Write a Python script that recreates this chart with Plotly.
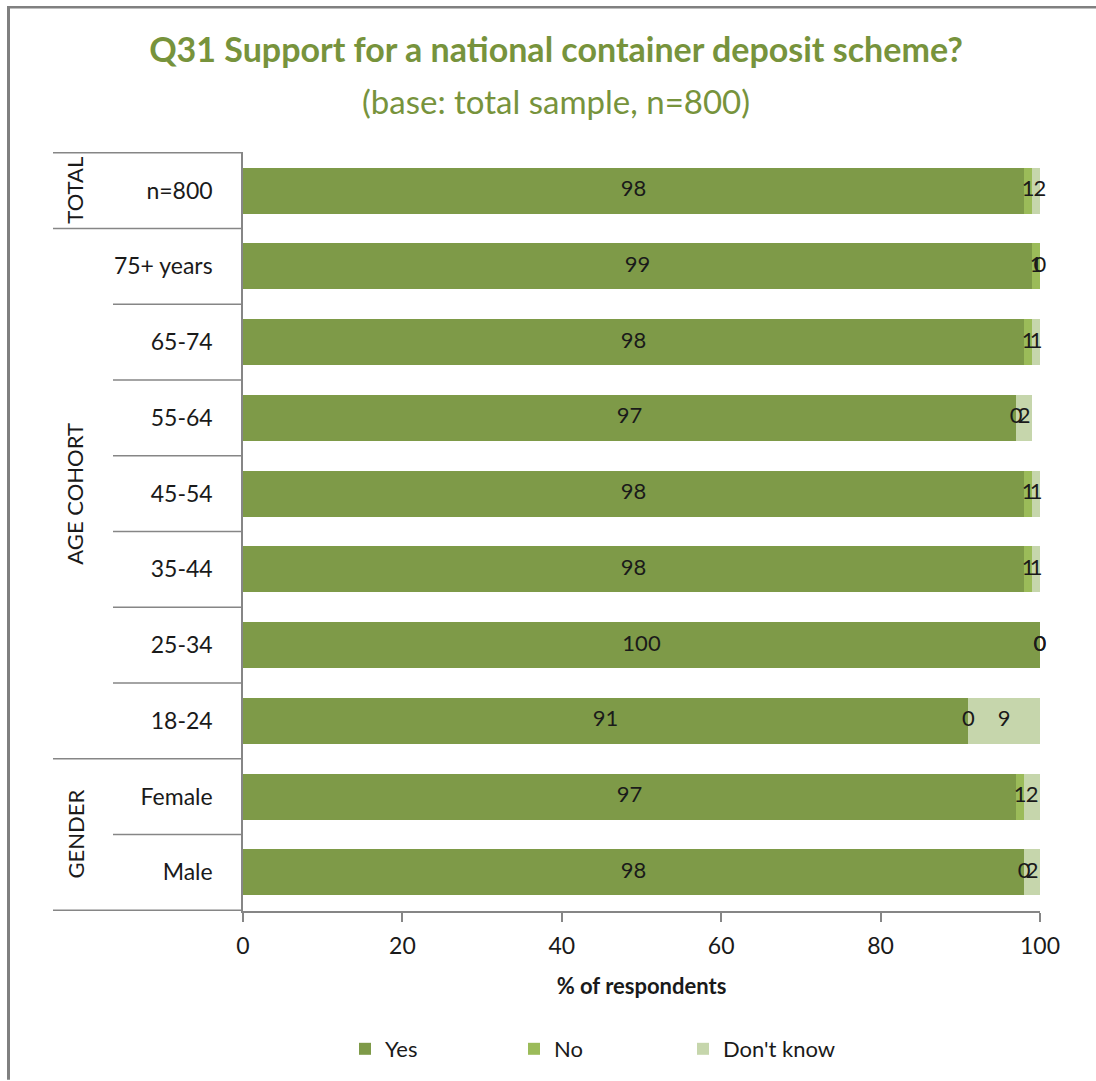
import plotly.graph_objects as go

categories = ["n=800", "75+ years", "65-74", "55-64", "45-54", "35-44", "25-34", "18-24", "Female", "Male"]
yes = [98, 99, 98, 97, 98, 98, 100, 91, 97, 98]
no = [1, 1, 1, 0, 1, 1, 0, 0, 1, 0]
dont_know = [2, 0, 1, 2, 1, 1, 0, 9, 2, 2]
series_names = ["Yes", "No", "Don't know"]
colors = ["#7E9A48", "#9BBB59", "#C6D6AC"]
x_ticks = [0, 20, 40, 60, 80, 100]
groups = [("TOTAL", 0, 0), ("AGE COHORT", 1, 7), ("GENDER", 8, 9)]

W, H = 1096, 1081
L, R, T, B = 243, 1040, 152, 912
PW, PH = R - L, B - T

def px_x(px):
    return (px - L) / PW

def px_y(py):
    return (B - py) / PH

FONT = "Lato"
TXT = "#1a1a1a"
GRAY = "#868686"

fig = go.Figure()
series = [yes, no, dont_know]
for name, vals, col in zip(series_names, series, colors):
    fig.add_trace(go.Bar(name=name, y=categories, x=vals, orientation="h",
                         marker=dict(color=col, line=dict(width=0)),
                         hoverinfo="skip"))

# data labels at segment centres
starts = [0] * len(categories)
for vals in series:
    centers = [s + v / 2 for s, v in zip(starts, vals)]
    fig.add_trace(go.Scatter(x=centers, y=categories, mode="text",
                             text=[str(v) for v in vals],
                             textfont=dict(family=FONT, size=22, color=TXT),
                             textposition="middle center", showlegend=False,
                             hoverinfo="skip", cliponaxis=False))
    starts = [s + v for s, v in zip(starts, vals)]

shapes = []
full = [-0.5, 0.5, 7.5, 9.5]
short = [1.5, 2.5, 3.5, 4.5, 5.5, 6.5, 8.5]
for yv in full:
    shapes.append(dict(type="line", xref="paper", yref="y", x0=px_x(53), x1=0,
                       y0=yv, y1=yv, line=dict(color=GRAY, width=1.5)))
for yv in short:
    shapes.append(dict(type="line", xref="paper", yref="y", x0=px_x(113), x1=0,
                       y0=yv, y1=yv, line=dict(color=GRAY, width=1.5)))
# outer frame (top and left visible)
shapes.append(dict(type="line", xref="paper", yref="paper", x0=px_x(7), x1=px_x(W),
                   y0=px_y(7), y1=px_y(7), line=dict(color="#808080", width=2.5)))
shapes.append(dict(type="line", xref="paper", yref="paper", x0=px_x(8.5), x1=px_x(8.5),
                   y0=px_y(6), y1=px_y(H), line=dict(color="#808080", width=3)))

annotations = []
for label, a, b in groups:
    annotations.append(dict(text=label, xref="paper", yref="y", x=px_x(75), y=(a + b) / 2,
                            textangle=-90, showarrow=False, xanchor="center", yanchor="middle",
                            font=dict(family=FONT, size=22, color=TXT)))
annotations.append(dict(text="(base: total sample, n=800)", xref="paper", yref="paper",
                        x=px_x(556), y=px_y(101), showarrow=False, xanchor="center",
                        yanchor="middle", font=dict(family=FONT, size=33, color="#77933C")))

fig.update_layout(
    width=W, height=H,
    margin=dict(l=L, r=W - R, t=T, b=H - B),
    barmode="stack", bargap=0.395,
    plot_bgcolor="white", paper_bgcolor="white",
    font=dict(family=FONT, size=22, color=TXT),
    title=dict(text="<b>Q31 Support for a national container deposit scheme?</b>",
               x=556 / W, xref="container", xanchor="center",
               y=1 - 50 / H, yref="container", yanchor="middle",
               font=dict(family=FONT, size=34, color="#77933C")),
    shapes=shapes, annotations=annotations,
    legend=dict(orientation="h", x=px_x(345), xanchor="left", y=px_y(1049), yanchor="middle",
                font=dict(family=FONT, size=22, color=TXT), entrywidth=124,
                traceorder="normal", itemclick=False),
)
fig.update_xaxes(range=[0, 100], tickvals=x_ticks, showgrid=False, zeroline=False,
                 showline=True, linecolor=GRAY, linewidth=1.5, ticks="outside",
                 ticklen=9, tickcolor=GRAY, tickwidth=1.5, ticklabelstandoff=5,
                 tickfont=dict(family=FONT, size=23, color=TXT),
                 title=dict(text="<b>% of respondents</b>", standoff=20,
                            font=dict(family=FONT, size=22, color=TXT)))
fig.update_yaxes(categoryorder="array", categoryarray=categories, autorange="reversed",
                 showgrid=False, zeroline=False, showline=True, linecolor=GRAY, linewidth=1.5,
                 ticks="", ticklabelstandoff=24,
                 tickfont=dict(family=FONT, size=23, color=TXT))

fig.write_html("out.html", config={"displayModeBar": False})
